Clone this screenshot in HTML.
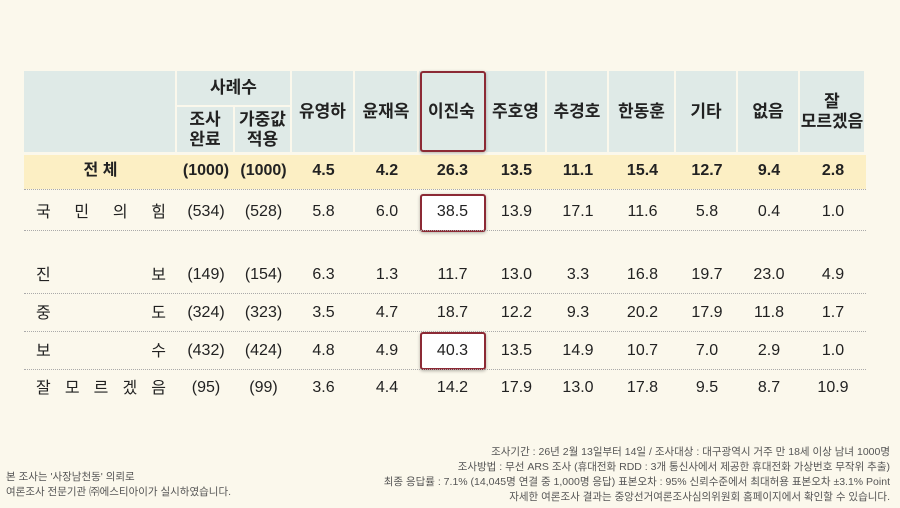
<!DOCTYPE html>
<html><head><meta charset="utf-8"><style>
body{margin:0;width:900px;height:508px;background:#fbf8ec;font-family:"Liberation Sans","Noto Sans CJK KR",sans-serif;position:relative;overflow:hidden;color:#222}
.a{position:absolute;box-sizing:border-box}
.c{display:flex;align-items:center;justify-content:center;text-align:center}
.h{background:#dfeae7;font-weight:bold;font-size:17px;line-height:20px}
.v{font-size:16px;line-height:18px}
.lbl{display:flex;justify-content:space-between;align-items:center;font-size:16px;line-height:18px}
.lbl span{display:block;line-height:18px;margin-top:1px}
.dot{border-top:1px dotted #aaa;height:0}
.box{border:2px solid #8c2a35;border-radius:3px;box-shadow:0 1px 3px rgba(0,0,0,.3)}
.foot{font-size:10.5px;color:#555;line-height:15px}
</style></head><body>
<div class="a box" style="left:420px;top:194px;width:66px;height:38px;background:#fff"></div>
<div class="a box" style="left:420px;top:332px;width:66px;height:38px;background:#fff"></div>
<div id="root"></div>
<div class="a box" style="left:420px;top:71px;width:66px;height:81px"></div>
<div class="a foot" style="left:6px;top:470px">본 조사는 '사장남천동' 의뢰로<br>여론조사 전문기관 ㈜에스티아이가 실시하였습니다.</div>
<div class="a foot" style="right:10px;top:445px;text-align:right">조사기간 : 26년 2월 13일부터 14일 / 조사대상 : 대구광역시 거주 만 18세 이상 남녀 1000명<br>조사방법 : 무선 ARS 조사 (휴대전화 RDD : 3개 통신사에서 제공한 휴대전화 가상번호 무작위 추출)<br>최종 응답률 : 7.1% (14,045명 연결 중 1,000명 응답) 표본오차 : 95% 신뢰수준에서 최대허용 표본오차 ±3.1% Point<br>자세한 여론조사 결과는 중앙선거여론조사심의위원회 홈페이지에서 확인할 수 있습니다.</div>
<script>
const candidates=["유영하","윤재옥","이진숙","주호영","추경호","한동훈","기타","없음","잘<br>모르겠음"];
const rowLabels=["전체","국민의힘","진보","중도","보수","잘모르겠음"];
const nDone=["(1000)","(534)","(149)","(324)","(432)","(95)"];
const nWeighted=["(1000)","(528)","(154)","(323)","(424)","(99)"];
const values=[
["4.5","4.2","26.3","13.5","11.1","15.4","12.7","9.4","2.8"],
["5.8","6.0","38.5","13.9","17.1","11.6","5.8","0.4","1.0"],
["6.3","1.3","11.7","13.0","3.3","16.8","19.7","23.0","4.9"],
["3.5","4.7","18.7","12.2","9.3","20.2","17.9","11.8","1.7"],
["4.8","4.9","40.3","13.5","14.9","10.7","7.0","2.9","1.0"],
["3.6","4.4","14.2","17.9","13.0","17.8","9.5","8.7","10.9"]];
const root=document.getElementById('root');
const colX=[24,177,235,292,355,419,486,547,609,676,738,800,866];
const rowY=[155,193,256,294,332,370];const rowH=[35,38,38,38,38,36];
function mk(cls,l,t,w,h,html){const d=document.createElement('div');d.className='a '+cls;d.style.left=l+'px';d.style.top=t+'px';d.style.width=w+'px';d.style.height=h+'px';d.innerHTML=html;root.appendChild(d);return d;}
let e=mk('h',24,71,151,81,'');


e=mk('h c',177,71,113,34,'사례수');


e=mk('h c',177,107,56,45,'조사<br>완료');


e=mk('h c',235,107,55,45,'가중값<br>적용');


candidates.forEach((c,i)=>{const x=colX[i+3],w=colX[i+4]-x-2;
const d=mk('h c',x,71,w,81,c);

});
e=mk('',24,155,842,34,'');e.style.background='#fcefc4';


rowLabels.forEach((lab,r)=>{const y=rowY[r],h=rowH[r];
let d;
if(r===0){d=mk('c v',24,y,153,h-4,'<b>전 체</b>');}
else{d=mk('lbl',36,y,130,h,lab.split('').map(ch=>'<span>'+ch+'</span>').join(''));}


const fw=r===0?'bold':'normal',hh=r===0?h-4:h;
d=mk('c v',177,y,58,hh,nDone[r]);d.style.fontWeight=fw;


d=mk('c v',235,y,57,hh,nWeighted[r]);d.style.fontWeight=fw;


values[r].forEach((v,i)=>{const x=colX[i+3];const c=mk('c v',x,y,colX[i+4]-x,hh,v);c.style.fontWeight=fw;

});
if(r<5){const l=mk('dot',24,y+h-1,842,0,'');

}
});
</script>
</body></html>
